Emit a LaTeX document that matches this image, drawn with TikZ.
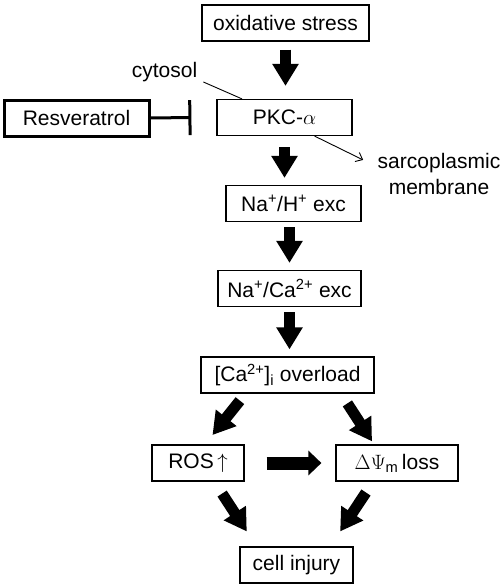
\documentclass[tikz,border=0pt]{standalone}
\usepackage{fontspec}
\setmainfont{Liberation Sans}
\usetikzlibrary{arrows.meta}

\begin{document}
\begin{tikzpicture}[x=1pt, y=-1pt,
		box/.style={draw, line width=1.2pt, inner sep=0pt, minimum height=36pt, font=\fontsize{21}{26}\selectfont},
		txt/.style={inner sep=0pt, font=\fontsize{21}{26}\selectfont},
		fat/.style={line width=11pt, -{Triangle[length=22pt, width=25pt]}},
		fatside/.style={line width=13pt, -{Triangle[length=13pt, width=24pt]}}]
			%%%%% START %%%%%
			
			\useasboundingbox (0, 0) rectangle (502, 586);
			
			\node[box, minimum width=167pt] (stress) at (285.5, 23) {oxidative stress};
			\node[box, minimum width=135pt] (pkc) at (284.5, 117.5) {PKC-$\alpha$};
			\node[box, minimum width=145pt, line width=3pt] (res) at (76.5, 118) {Resveratrol};
			\node[txt] (cytosol) at (164.5, 72) {cytosol};
			\node[txt, align=center] (sarco) at (439, 174) {sarcoplasmic\\membrane};
			
			\node[box, minimum width=135pt] (nah) at (293.5, 203.5) {Na\textsuperscript{+}/H\textsuperscript{+} exc};
			\node[box, minimum width=143pt] (naca) at (289.5, 288.5) {Na\textsuperscript{+}/Ca\textsuperscript{2+} exc};
			\node[box, minimum width=173pt] (ca) at (287.5, 375) {[Ca\textsuperscript{2+}]\textsubscript{i} overload};
			
			\node[box, minimum width=92pt] (ros) at (198, 463) {ROS\,$\uparrow$};
			\node[box, minimum width=122pt] (dpsi) at (397, 463) {$\Delta\Psi$\textsubscript{m}\,loss};
			\node[box, minimum width=113pt] (inj) at (296.5, 565) {cell injury};
			
			\draw[fat, shorten <=8pt, shorten >=13pt] (stress.south) -- (stress.south |- pkc.north);
			\draw[fat, shorten <=11pt, shorten >=7pt] (pkc.south) -- (pkc.south |- nah.north);
			\draw[fat, shorten <=5pt, shorten >=7pt] (naca.north |- nah.south) -- (naca.north);
			\draw[fat, shorten <=5pt, shorten >=7pt] (naca.south) -- (naca.south |- ca.north);
			
			\draw[line width=3pt, -{Bar[width=35pt]}] (res.east) -- ([xshift=-25pt]pkc.west);
			\draw[line width=0.9pt] ([xshift=6pt]cytosol.south east) -- ([xshift=-42.5pt]pkc.north);
			\draw[line width=0.9pt, -{Straight Barb[length=6pt, width=10pt]}, shorten >=16pt] ([xshift=-38pt]pkc.south east) -- ([yshift=7pt]sarco.west);
			
			\draw[fat, shorten <=9pt, shorten >=12pt] ([xshift=-42pt]ca.south) -- ([xshift=7pt]ros.north);
			\draw[fat, shorten <=11.7pt, shorten >=3.6pt] ([xshift=53.5pt]ca.south) -- ([xshift=-23pt]dpsi.north);
			\draw[fatside, shorten <=22pt, shorten >=14pt] (ros.east) -- (dpsi.west);
			\draw[fat, shorten <=14.3pt, shorten >=17.8pt] ([xshift=16.3pt]ros.south) -- ([xshift=-40pt]inj.north);
			\draw[fat, shorten <=13.1pt, shorten >=17.9pt] ([xshift=-23.8pt]dpsi.south) -- ([xshift=33.75pt]inj.north);
			
			%%%%% END %%%%%
\end{tikzpicture}
\end{document}
